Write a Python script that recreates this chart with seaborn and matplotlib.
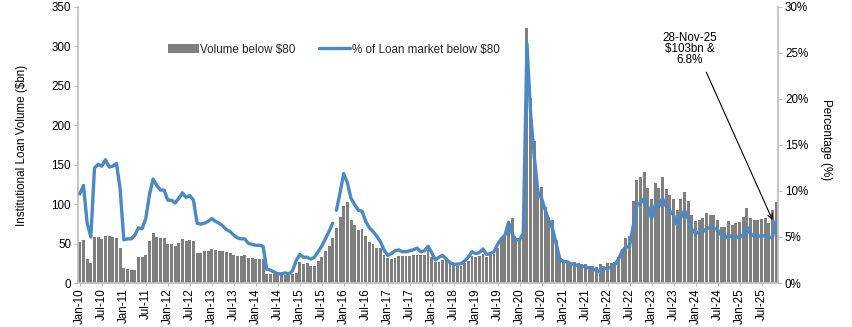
import numpy as np
import pandas as pd
import matplotlib
matplotlib.use("Agg")
import matplotlib.pyplot as plt
import seaborn as sns
from matplotlib.patches import Patch
from matplotlib.lines import Line2D
from matplotlib.ticker import FuncFormatter

sns.set_theme(style="white")
plt.rcParams["font.family"] = ["Liberation Sans Narrow", "Liberation Sans", "DejaVu Sans"]

# ---------------- data (monthly, Jan-10 .. Nov-25) ----------------
vol_2010 = [52, 55, 31, 25, 58, 58, 56, 60, 59, 58, 57, 44]
vol_2011 = [19, 18, 17, 17, 33, 33, 36, 53, 63, 58, 57, 57]
vol_2012 = [50, 49, 47, 51, 56, 53, 54, 53, 38, 38, 40, 41]
vol_2013 = [43, 42, 41, 40, 39, 38, 35, 34, 34, 35, 32, 32]
vol_2014 = [31, 31, 31, 12, 11, 11, 10, 11, 10, 11, 12, 13]
vol_2015 = [27, 24, 25, 22, 21, 28, 33, 40, 47, 57, 70, 84]
vol_2016 = [98, 103, 80, 74, 67, 69, 59, 52, 50, 45, 45, 36]
vol_2017 = [32, 31, 32, 34, 34, 34, 34, 35, 36, 35, 36, 42]
vol_2018 = [33, 26, 27, 29, 29, 25, 23, 22, 22, 25, 28, 34]
vol_2019 = [33, 34, 37, 33, 35, 37, 44, 56, 60, 77, 83, 57]
vol_2020 = [54, 62, 324, 235, 180, 124, 122, 97, 84, 80, 55, 33]
vol_2021 = [29, 27, 26, 26, 25, 24, 24, 22, 21, 20, 24, 21]
vol_2022 = [25, 25, 27, 33, 43, 57, 60, 104, 131, 135, 141, 120]
vol_2023 = [107, 127, 120, 134, 119, 111, 107, 92, 106, 116, 104, 86]
vol_2024 = [79, 80, 82, 89, 86, 86, 80, 71, 71, 78, 73, 76]
vol_2025 = [77, 84, 95, 82, 80, 80, 81, 82, 76, 93, 103]

pct_2010 = [9.7, 10.6, 6.5, 5.0, 12.5, 12.9, 12.7, 13.4, 12.6, 12.7, 13.0, 10.2]
pct_2011 = [4.7, 4.8, 4.8, 5.2, 6.0, 5.9, 7.0, 9.6, 11.3, 10.6, 10.1, 10.1]
pct_2012 = [9.0, 9.0, 8.7, 9.2, 9.8, 9.3, 9.5, 9.0, 6.5, 6.4, 6.5, 6.7]
pct_2013 = [7.0, 6.7, 6.5, 6.2, 5.8, 5.6, 5.2, 4.9, 4.8, 4.8, 4.3, 4.2]
pct_2014 = [4.1, 4.1, 4.0, 1.5, 1.4, 1.2, 1.0, 1.0, 1.1, 1.0, 1.3, 2.4]
pct_2015 = [3.1, 2.8, 2.8, 2.6, 2.8, 3.4, 4.0, 4.8, 5.6, 6.5, 7.9, 9.8]
pct_2016 = [11.9, 10.9, 9.2, 8.5, 7.9, 7.8, 6.7, 6.0, 5.6, 5.1, 4.5, 3.6]
pct_2017 = [3.0, 3.2, 3.5, 3.6, 3.4, 3.4, 3.5, 3.6, 3.8, 3.4, 3.5, 4.0]
pct_2018 = [3.3, 2.5, 2.8, 3.0, 2.6, 2.2, 2.05, 2.05, 2.1, 2.4, 2.8, 3.4]
pct_2019 = [3.2, 3.3, 3.7, 3.1, 3.2, 3.4, 4.2, 4.8, 5.2, 6.6, 5.3, 4.7]
pct_2020 = [4.7, 5.4, 26.0, 18.4, 13.7, 9.9, 9.2, 7.9, 6.8, 5.9, 4.2, 2.6]
pct_2021 = [2.35, 2.3, 2.1, 2.0, 1.9, 1.85, 1.75, 1.6, 1.5, 1.35, 1.25, 1.55]
pct_2022 = [1.6, 1.7, 2.0, 2.6, 3.5, 3.9, 4.0, 6.2, 8.5, 8.7, 9.2, 8.3]
pct_2023 = [7.0, 8.5, 8.3, 9.2, 8.3, 7.8, 7.4, 6.3, 7.1, 7.9, 7.0, 5.8]
pct_2024 = [5.4, 5.5, 5.6, 5.9, 6.05, 6.0, 5.8, 5.2, 4.85, 5.2, 5.0, 5.0]
pct_2025 = [5.0, 5.2, 6.1, 5.3, 5.1, 5.1, 5.1, 5.15, 4.9, 5.0, 6.8]

# the % series has a break between Oct-15 and Nov-15
line_break_month = "2015-11"

tick_labels = ["Jan-10", "Jul-10", "Jan-11", "Jul-11", "Jan-12", "Jul-12", "Jan-13", "Jul-13",
               "Jan-14", "Jul-14", "Jan-15", "Jul-15", "Jan-16", "Jul-16", "Jan-17", "Jul-17",
               "Jan-18", "Jul-18", "Jan-19", "Jul-19", "Jan-20", "Jul-20", "Jan-21", "Jul-21",
               "Jan-22", "Jul-22", "Jan-23", "Jul-23", "Jan-24", "Jul-24", "Jan-25", "Jul-25"]

legend_labels = ["Volume below \\$80", "% of Loan market below \\$80"]
annotation_text = "28-Nov-25\n\\$103bn &\n6.8%"

# ---------------- assemble ----------------
vol = sum([vol_2010, vol_2011, vol_2012, vol_2013, vol_2014, vol_2015, vol_2016, vol_2017,
           vol_2018, vol_2019, vol_2020, vol_2021, vol_2022, vol_2023, vol_2024, vol_2025], [])
pct = sum([pct_2010, pct_2011, pct_2012, pct_2013, pct_2014, pct_2015, pct_2016, pct_2017,
           pct_2018, pct_2019, pct_2020, pct_2021, pct_2022, pct_2023, pct_2024, pct_2025], [])
months = pd.date_range("2010-01-01", periods=len(vol), freq="MS")
df = pd.DataFrame({"month": months, "idx": np.arange(len(vol)), "vol": vol, "pct": pct})
df["seg"] = (df["month"] >= pd.Timestamp(line_break_month)).astype(int)

BAR = "#7f7f7f"
BLUE = "#4a89c5"
AXC = "#bfbfbf"
FS = 8.4

W, H = 852, 327
fig = plt.figure(figsize=(W / 100, H / 100), dpi=100)
ax = fig.add_axes([78 / W, 1 - 283 / H, 700 / W, 276 / H])

sns.barplot(data=df, x="idx", y="vol", native_scale=True, color=BAR, saturation=1,
            width=0.8, linewidth=0, ax=ax)
ax2 = ax.twinx()
sns.lineplot(data=df, x="idx", y="pct", units="seg", estimator=None, color=BLUE,
             linewidth=2.4, ax=ax2, legend=False)

n = len(vol)
ax.set_xlim(-0.5, n - 0.5)
ax2.set_xlim(-0.5, n - 0.5)
ax.set_ylim(0, 350)
ax2.set_ylim(0, 30)
ax.set_yticks(np.arange(0, 351, 50))
ax2.set_yticks(np.arange(0, 31, 5))
ax2.yaxis.set_major_formatter(FuncFormatter(lambda v, p: f"{v:.0f}%"))

ax.set_xticks(np.arange(0, n, 6))
ax.set_xticklabels(tick_labels, rotation=90, fontsize=FS)
ax.set_xlabel("")
ax2.set_xlabel("")

for a in (ax, ax2):
    for s in a.spines.values():
        s.set_visible(False)
ax.spines["left"].set_visible(True)
ax.spines["left"].set_color(AXC)
ax.spines["bottom"].set_visible(True)
ax.spines["bottom"].set_color(AXC)
ax2.spines["right"].set_visible(True)
ax2.spines["right"].set_color(AXC)

ax.tick_params(axis="y", which="both", left=True, length=3, width=0.8, color=AXC,
               labelsize=FS, pad=2, labelcolor="black")
ax.tick_params(axis="x", bottom=True, length=2, width=0.8, color=AXC, labelsize=FS, pad=2,
               labelcolor="black")
ax2.tick_params(axis="y", right=True, length=3, width=0.8, color=AXC, labelsize=FS, pad=2,
                labelcolor="black")

ax.set_ylabel("Institutional Loan Volume (\\$bn)", fontsize=FS, color="black")
ax.yaxis.set_label_coords((28 - 78) / 700, 0.5)
ax2.set_ylabel("Percentage (%)", fontsize=FS, rotation=270, color="black", va="bottom")
ax2.yaxis.set_label_coords((820 - 78) / 700, 0.52)

handles = [Patch(facecolor=BAR, edgecolor="none"), Line2D([0], [0], color=BLUE, lw=2.4)]
ax.legend(handles, legend_labels, loc="center left", bbox_to_anchor=(0.128, 0.846), ncol=2,
          frameon=False, fontsize=FS, handlelength=2.7, handleheight=0.9, handletextpad=0.1,
          columnspacing=2.0, borderaxespad=0, borderpad=0)

ax2.annotate(annotation_text, xy=(189.0, 6.85), xytext=(166.5, 25.4), ha="center", va="center",
             fontsize=FS, linespacing=0.9, color="black",
             arrowprops=dict(arrowstyle="->", color="black", lw=0.8, relpos=(0.75, 0),
                             shrinkA=2, shrinkB=0))

fig.savefig("out.png", dpi=100)
